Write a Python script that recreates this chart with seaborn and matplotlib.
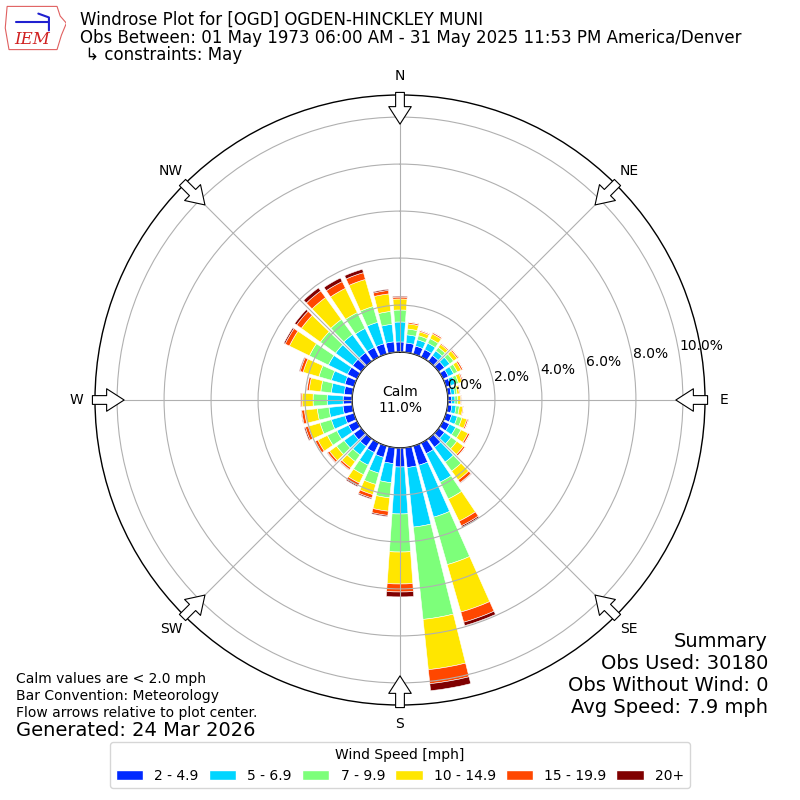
import numpy as np
import matplotlib
matplotlib.use("Agg")
import matplotlib.pyplot as plt
from matplotlib.patches import Patch, Polygon
import seaborn as sns

# wind direction (deg, where the wind comes from) and speed classes
directions = np.arange(0, 360, 10)
speed_labels = ["2 - 4.9", "5 - 6.9", "7 - 9.9", "10 - 14.9", "15 - 19.9", "20+"]

# percent of observations per direction, one list per speed class
pct_2_5 = [0.43, 0.40, 0.35, 0.35, 0.30, 0.30, 0.25, 0.20, 0.15, 0.15, 0.18, 0.25,
           0.30, 0.30, 0.45, 0.50, 0.85, 0.85, 0.81, 0.68, 0.50, 0.45, 0.40, 0.40,
           0.40, 0.40, 0.40, 0.38, 0.35, 0.40, 0.45, 0.45, 0.45, 0.45, 0.45, 0.45]
pct_5_7 = [0.85, 0.35, 0.28, 0.30, 0.25, 0.28, 0.25, 0.20, 0.15, 0.15, 0.18, 0.25,
           0.30, 0.35, 0.78, 1.35, 2.30, 2.55, 2.00, 0.82, 0.70, 0.60, 0.45, 0.50,
           0.55, 0.60, 0.60, 0.68, 0.55, 0.60, 0.90, 0.90, 0.95, 0.90, 0.95, 0.75]
pct_7_10 = [0.51, 0.25, 0.18, 0.22, 0.18, 0.20, 0.18, 0.15, 0.10, 0.12, 0.14, 0.20,
            0.25, 0.30, 0.47, 0.80, 2.10, 3.95, 1.62, 0.65, 0.50, 0.45, 0.35, 0.40,
            0.45, 0.50, 0.50, 0.60, 0.45, 0.55, 0.90, 0.80, 0.80, 0.75, 0.70, 0.55]
pct_10_15 = [0.47, 0.22, 0.17, 0.22, 0.16, 0.19, 0.18, 0.16, 0.10, 0.13, 0.15, 0.22,
             0.33, 0.35, 0.47, 1.05, 2.10, 2.15, 1.36, 0.57, 0.45, 0.40, 0.33, 0.37,
             0.45, 0.52, 0.55, 0.47, 0.50, 0.70, 0.95, 1.00, 1.15, 1.15, 1.20, 0.75]
pct_15_20 = [0.08, 0.06, 0.05, 0.06, 0.05, 0.06, 0.07, 0.05, 0.04, 0.04, 0.04, 0.06,
             0.08, 0.08, 0.14, 0.22, 0.45, 0.60, 0.34, 0.18, 0.15, 0.12, 0.09, 0.10,
             0.12, 0.13, 0.12, 0.05, 0.09, 0.13, 0.20, 0.25, 0.35, 0.32, 0.30, 0.15]
pct_20 = [0.04, 0.02, 0.02, 0.02, 0.01, 0.02, 0.02, 0.02, 0.01, 0.01, 0.01, 0.02,
          0.02, 0.02, 0.03, 0.06, 0.15, 0.30, 0.21, 0.05, 0.05, 0.05, 0.03, 0.03,
          0.03, 0.05, 0.03, 0.03, 0.02, 0.04, 0.06, 0.10, 0.16, 0.17, 0.15, 0.05]

calm_pct = 11.0
rticks = [0, 2, 4, 6, 8, 10]
compass = ["N", "NE", "E", "SE", "S", "SW", "W", "NW"]

sns.set_style("white")
plt.rcParams["font.family"] = ["DejaVu Sans"]
plt.rcParams["text.color"] = "black"
plt.rcParams["xtick.color"] = "black"
plt.rcParams["ytick.color"] = "black"

colors = plt.get_cmap("jet")(np.linspace(0, 1, 7)[1:])
series = [pct_2_5, pct_5_7, pct_7_10, pct_10_15, pct_15_20, pct_20]

fig = plt.figure(figsize=(8, 8), dpi=100)
ax = fig.add_axes([0.11875, 0.11875, 0.7625, 0.7625], projection="polar")
ax.set_theta_zero_location("N")
ax.set_theta_direction(-1)

theta = np.deg2rad(directions)
width = np.deg2rad(10) * 0.8
bottom = np.zeros(len(directions))
for vals, col in zip(series, colors):
    vals = np.array(vals)
    ax.bar(theta, vals, width=width, bottom=bottom, color=col,
           edgecolor="white", linewidth=0.4, zorder=2)
    bottom += vals

ax.set_rorigin(-2.04)
ax.set_ylim(0, 10.94)
ax.set_yticks(rticks)
ax.set_yticklabels([f"{v:.1f}%" for v in rticks], fontsize=10)
ax.set_rlabel_position(80.5)
ax.set_xticks(np.deg2rad(np.arange(0, 360, 45)))
ax.set_xticklabels(compass, fontsize=10)
ax.tick_params(axis="x", pad=3)
ax.grid(True, color="#b0b0b0", linewidth=0.8)
ax.set_axisbelow(False)
for s in ax.spines.values():
    s.set_color("black")
    s.set_linewidth(1.0)

ax.text(0.5, 0.5, f"Calm\n{calm_pct:.1f}%", transform=ax.transAxes,
        ha="center", va="center", fontsize=10)

# flow arrows at the compass points
for ang in np.arange(0, 360, 45):
    th = np.deg2rad(ang)
    ax.annotate("", xy=(th, 9.7), xytext=(th, 11.05),
                arrowprops=dict(arrowstyle="simple,head_length=0.7,head_width=0.9,tail_width=0.35",
                                fc="white", ec="black", lw=0.8, mutation_scale=18,
                                shrinkA=0, shrinkB=0),
                annotation_clip=False)

# titles
fig.text(0.1, 0.975, "Windrose Plot for [OGD] OGDEN-HINCKLEY MUNI", fontsize=12, va="center")
fig.text(0.1, 0.953, "Obs Between: 01 May 1973 06:00 AM - 31 May 2025 11:53 PM America/Denver",
         fontsize=12, va="center")
fig.text(0.1, 0.931, " \u21b3 constraints: May", fontsize=12, va="center")

# small IEM logo
lax = fig.add_axes([0.005, 0.935, 0.078, 0.06])
lax.set_xlim(0, 1)
lax.set_ylim(0, 1)
lax.axis("off")
lax.add_patch(Polygon([[0.05, 0.95], [0.85, 0.95], [0.9, 0.75], [1.0, 0.6], [0.92, 0.35],
                       [0.85, 0.05], [0.08, 0.05], [0.02, 0.5]],
                      closed=True, fill=False, ec="#e06060", lw=0.8))
lax.plot([0.2, 0.7], [0.62, 0.62], color="#2020d0", lw=1.5)
lax.plot([0.55, 0.72, 0.72], [0.8, 0.72, 0.45], color="#2020d0", lw=1.5)
lax.text(0.45, 0.25, "IEM", color="#d02020", fontsize=12, style="italic",
         family="DejaVu Serif", ha="center", va="center")

# notes
fig.text(0.02, 0.13, "Calm values are < 2.0 mph\nBar Convention: Meteorology\n"
         "Flow arrows relative to plot center.", fontsize=10, va="center", linespacing=1.25)
fig.text(0.02, 0.087, "Generated: 24 Mar 2026", fontsize=14, va="center")
fig.text(0.96, 0.157, "Summary\nObs Used: 30180\nObs Without Wind: 0\nAvg Speed: 7.9 mph",
         fontsize=14, ha="right", va="center", linespacing=1.2)

handles = [Patch(facecolor=c, label=l) for c, l in zip(colors, speed_labels)]
fig.legend(handles=handles, loc="lower center", bbox_to_anchor=(0.5, 0.006), ncol=6,
           title="Wind Speed [mph]", fontsize=10, title_fontsize=10, columnspacing=0.7)

fig.savefig("out.png", dpi=100)
